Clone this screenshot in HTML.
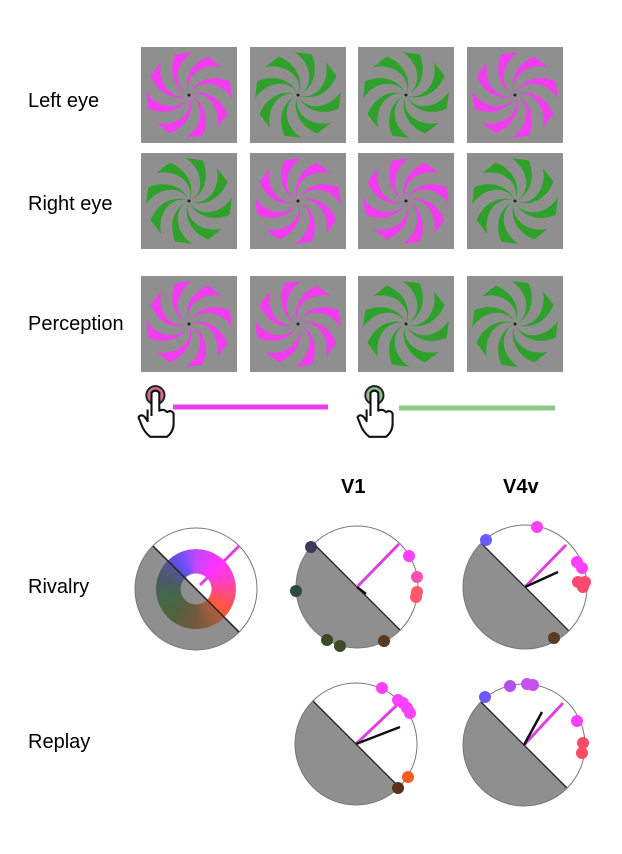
<!DOCTYPE html>
<html><head><meta charset="utf-8"><style>
body{margin:0;background:#fff;width:622px;height:854px;position:relative;overflow:hidden;font-family:"Liberation Sans",sans-serif}
.l{position:absolute;font-size:20px;color:#000;line-height:1}
.h{position:absolute;font-size:20px;font-weight:bold;line-height:1}
svg{position:absolute;left:0;top:0}
#ring{position:absolute;left:156px;top:549px;width:80px;height:80px;border-radius:50%;
background:conic-gradient(from 0deg,#c048ff 0deg,#ff30ff 40deg,#ff40c0 75deg,#ff5060 110deg,#ff6020 140deg,#8a5a20 180deg,#4a6a20 220deg,#2e7a30 250deg,#3a5a70 285deg,#5050d0 315deg,#7a50ff 340deg,#c048ff 360deg);
-webkit-mask:radial-gradient(circle,transparent 15px,#000 16px);mask:radial-gradient(circle,transparent 15px,#000 16px)}
</style></head><body>
<div class="l" style="left:28px;top:91px">Left eye</div>
<div class="l" style="left:28px;top:194px">Right eye</div>
<div class="l" style="left:28px;top:314px">Perception</div>
<div class="l" style="left:28px;top:577px">Rivalry</div>
<div class="l" style="left:28px;top:732px">Replay</div>
<div class="h" style="left:341px;top:477px">V1</div>
<div class="h" style="left:503px;top:477px">V4v</div>
<svg id="top" width="622" height="460"></svg>
<svg id="bot" width="622" height="854" style="top:0"></svg>
<div id="ring"></div>
<svg id="ov" width="622" height="854"></svg>
<script>
function blade(){var R=43,pts=[],pts2=[];for(var i=0;i<=20;i++){var r=3+(R-3)*i/20,t=0.9*r/R,w=0.04+0.36*r/R;pts.push([r,t]);pts2.push([r,t+w]);}
var d="M";pts.forEach(function(p,i){d+=(i?"L":"")+(p[0]*Math.cos(p[1])).toFixed(2)+","+(p[0]*Math.sin(p[1])).toFixed(2);});
pts2.reverse().forEach(function(p){d+="L"+(p[0]*Math.cos(p[1])).toFixed(2)+","+(p[0]*Math.sin(p[1])).toFixed(2);});return d+"Z";}
var B=blade();
function pin(x,y,mag){var s='<rect x="'+x+'" y="'+y+'" width="96" height="96" fill="#8f8f8f"/><g transform="translate('+(x+48)+','+(y+48)+')'+(mag?'':' scale(-1,1)')+'">';
for(var k=0;k<8;k++)s+='<path d="'+B+'" fill="'+(mag?'#f23cf0':'#2ea12a')+'" transform="rotate('+(k*45+20)+')"/>';
return s+'</g><circle cx="'+(x+48)+'" cy="'+(y+48)+'" r="1.5" fill="#222"/>';}
var xs=[141,250,358,467],rows=[[47,[1,0,0,1]],[153,[0,1,1,0]],[276,[1,1,0,0]]],s="";
rows.forEach(function(r){xs.forEach(function(x,i){s+=pin(x,r[0],r[1][i]);});});
function hand(x,y,c){return '<g transform="translate('+x+','+y+') scale(1.3)"><circle cx="18" cy="4" r="7" fill="'+c+'" stroke="#222" stroke-width="1.5"/><path d="M15,20V2q3,-3 6,0V16q3,-2 6,1q3,-2 5,1v8q0,6 -5,10h-13q-5,-4 -7,-10l-2,-5q2,-3 5,0l2,3V15" fill="#fff" stroke="#111" stroke-width="1.6" stroke-linejoin="round"/></g>';}
s+=hand(132,390,'#d07090')+hand(351,390,'#90c090');
s+='<line x1="173" y1="407" x2="328" y2="407" stroke="#ee3cee" stroke-width="5"/><line x1="399" y1="408" x2="555" y2="408" stroke="#90c88a" stroke-width="5"/>';
document.getElementById("top").innerHTML=s;
function half(cx,cy,r,f,op){var c=r*Math.SQRT1_2;return '<path d="M'+(cx-c)+','+(cy-c)+'A'+r+','+r+' 0 0 0 '+(cx+c)+','+(cy+c)+'Z" fill="'+f+'"'+(op?' opacity="'+op+'"':'')+'/>';}
function circ(cx,cy,r){var c=r*Math.SQRT1_2;return '<circle cx="'+cx+'" cy="'+cy+'" r="'+r+'" fill="#fff"/>'+half(cx,cy,r,'#8f8f8f')+'<line x1="'+(cx-c)+'" y1="'+(cy-c)+'" x2="'+(cx+c)+'" y2="'+(cy+c)+'" stroke="#222" stroke-width="1.3"/><circle cx="'+cx+'" cy="'+cy+'" r="'+r+'" fill="none" stroke="#777" stroke-width="1"/>';}
function ln(x1,y1,x2,y2,c,w){return '<line x1="'+x1+'" y1="'+y1+'" x2="'+x2+'" y2="'+y2+'" stroke="'+c+'" stroke-width="'+w+'"/>';}
function dots(a){return a.map(function(d){return '<circle cx="'+d[0]+'" cy="'+d[1]+'" r="6" fill="'+d[2]+'"/>';}).join("");}
var b="";
b+=circ(196,589,61)+ln(200,585,239,546,"#e040e0",3);
b+=circ(357,587,61)+ln(357,587,399,544,"#e040e0",3)+ln(357,587,366,594,"#111",2.5)+dots([[311,547,"#3a3a5e"],[296,591,"#2f4a3a"],[327,640,"#3a4a28"],[340,646,"#3f4a28"],[384,641,"#5a3a20"],[409,556,"#ff40ff"],[417,577,"#ff50b0"],[417,592,"#ff5a6a"],[416,597,"#ff5a6a"]]);
b+=circ(525,587,62)+ln(525,587,566,545,"#e040e0",3)+ln(525,587,558,572,"#111",2.5)+dots([[486,540,"#6a5aff"],[537,527,"#ff40ff"],[577,562,"#ff40ff"],[582,568,"#ff40ff"],[578,582,"#ff4a70"],[583,587,"#ff4a70"],[585,582,"#ff4a70"],[554,638,"#5a3a20"]]);
b+=circ(356,744,61)+ln(356,744,397,705,"#e040e0",3)+ln(356,744,400,727,"#111",2.5)+dots([[382,688,"#ff40ff"],[398,700,"#ff40ff"],[403,703,"#ff40ff"],[407,708,"#ff40ff"],[410,713,"#ff40ff"],[408,777,"#ff5a20"],[398,788,"#5a3018"]]);
b+=circ(524,745,61)+ln(524,745,563,703,"#e040e0",3)+ln(524,745,542,712,"#111",2.5)+dots([[485,697,"#6a5aff"],[510,686,"#b050f0"],[527,684,"#c850f0"],[533,685,"#c850f0"],[577,721,"#ff40ff"],[583,743,"#ff4a6a"],[582,753,"#ff4a6a"]]);
document.getElementById("bot").innerHTML=b;
var o='<defs><mask id="m"><circle cx="196" cy="589" r="40" fill="#fff"/><circle cx="196" cy="589" r="15.5" fill="#000"/></mask></defs><g mask="url(#m)">'+half(196,589,61,'#5a5a5a',0.5)+'</g>'+ln(153,546,239,632,"#222",1.3);
document.getElementById("ov").innerHTML=o;
</script>
</body></html>
